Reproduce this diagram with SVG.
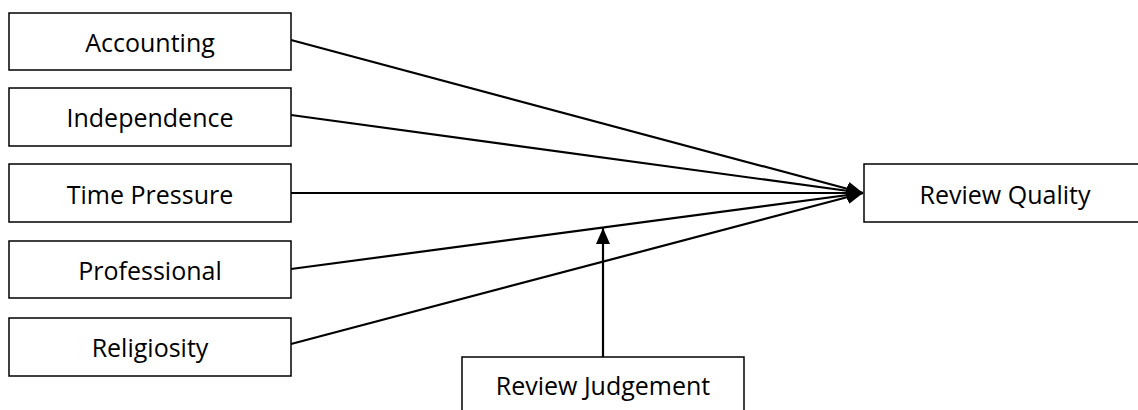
<svg xmlns="http://www.w3.org/2000/svg" width="1138" height="410" viewBox="0 0 1138 410">
<style>
.box{fill:#fff;stroke:#000;stroke-width:1.5}
.lbl{font-family:"Open Sans","Liberation Sans",sans-serif;font-size:25px;fill:#000;text-anchor:middle}
.conn{stroke:#000;stroke-width:2.2;fill:none}
</style>
<defs>
<marker id="ah" markerUnits="userSpaceOnUse" markerWidth="18" markerHeight="16" refX="16" refY="7" orient="auto" viewBox="0 0 18 16">
<path d="M0,0 L16,7 L0,14 z" fill="#000"/>
</marker>
</defs>
<g id="connectors">
<line class="conn" x1="291" y1="40" x2="863" y2="193" marker-end="url(#ah)"/>
<line class="conn" x1="291" y1="115" x2="863" y2="193" marker-end="url(#ah)"/>
<line class="conn" x1="291" y1="193" x2="863" y2="193" marker-end="url(#ah)"/>
<line class="conn" x1="291" y1="269" x2="863" y2="193" marker-end="url(#ah)"/>
<line class="conn" x1="291" y1="344" x2="863" y2="193" marker-end="url(#ah)"/>
<line class="conn" x1="603" y1="357" x2="603" y2="228" marker-end="url(#ah)"/>
</g>
<g id="accounting"><rect class="box" x="9" y="13" width="282" height="57"/><text class="lbl" x="150" y="52">Accounting</text></g>
<g id="independence"><rect class="box" x="9" y="88" width="282" height="58"/><text class="lbl" x="150" y="127">Independence</text></g>
<g id="time-pressure"><rect class="box" x="9" y="164" width="282" height="58"/><text class="lbl" x="150" y="203.5">Time Pressure</text></g>
<g id="professional"><rect class="box" x="9" y="241" width="282" height="57"/><text class="lbl" x="150" y="280">Professional</text></g>
<g id="religiosity"><rect class="box" x="9" y="318" width="282" height="58"/><text class="lbl" x="150" y="357">Religiosity</text></g>
<g id="review-quality"><rect class="box" x="864" y="164" width="280" height="58"/><text class="lbl" x="1005" y="204">Review Quality</text></g>
<g id="review-judgement"><rect class="box" x="462" y="357" width="282" height="60"/><text class="lbl" x="603" y="395">Review Judgement</text></g>
</svg>
